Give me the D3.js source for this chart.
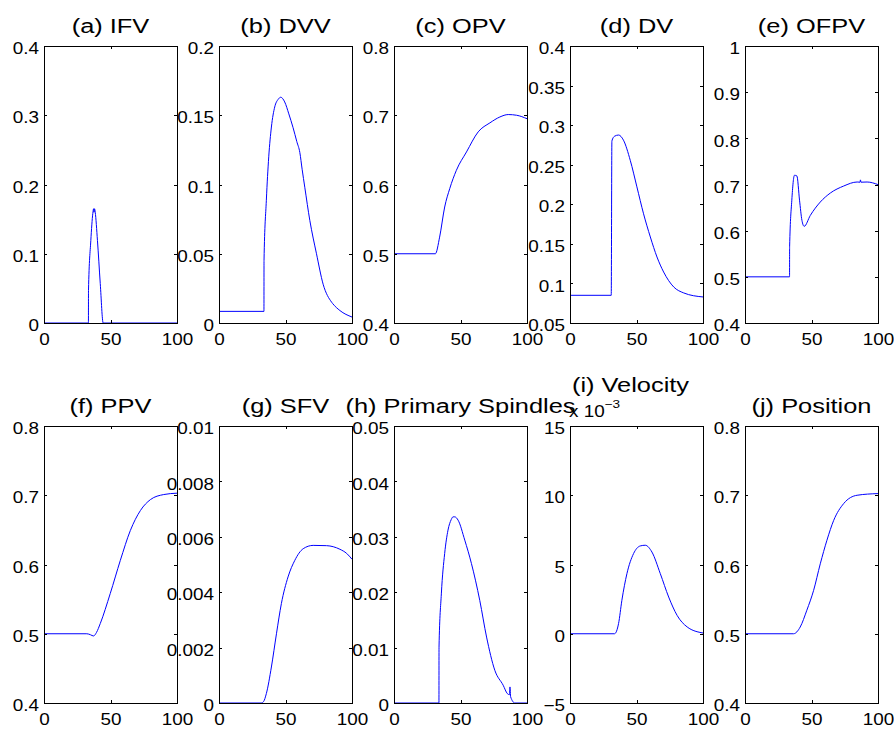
<!DOCTYPE html>
<html>
<head>
<meta charset="utf-8">
<script src="https://cdn.jsdelivr.net/npm/d3@7"></script>
<style>
  html, body { margin: 0; padding: 0; background: #fff; }
  svg { display: block; font-family: "Liberation Sans", Arial, Helvetica, sans-serif; }
  .axis text { font-size: 16px; fill: #000; }
  .axis line { stroke: #000; }
  .title { font-size: 20px; fill: #000; }
</style>
</head>
<body>
<svg id="chart" width="894" height="729"></svg>
<script>
// ---------------- DATA ----------------
const titles = ["(a) IFV", "(b) DVV", "(c) OPV", "(d) DV", "(e) OFPV",
                "(f) PPV", "(g) SFV", "(h) Primary Spindles", "(i) Velocity", "(j) Position"];
const xTicks = [0, 50, 100];

// (a) IFV
const ifvX = [0, 33.4, 33.45, 35.2, 36.7, 37.3, 37.6, 38.0, 38.5, 40.2, 42.3, 44.5, 100];
const ifvY = [0, 0, 0.047, 0.119, 0.158, 0.165, 0.160, 0.165, 0.160, 0.119, 0.057, 0, 0];
const ifvTicks = [0, 0.1, 0.2, 0.3, 0.4];

// (b) DVV
const dvvX = [0, 33.8, 33.85, 35.6, 37.4, 39.4, 41.9, 44.5, 46.4, 49.4, 52.5, 55.7, 58.5, 60.8, 62.5, 64.5, 68.3, 73.3, 78.3, 84.7, 85.5, 90.9, 100];
const dvvY = [0.0084, 0.0084, 0.045, 0.0886, 0.120, 0.1415, 0.156, 0.1615, 0.163, 0.1596, 0.151, 0.141, 0.131, 0.123, 0.111, 0.098, 0.074, 0.050, 0.028, 0.015, 0.014, 0.009, 0.0043];
const dvvTicks = [0, 0.05, 0.1, 0.15, 0.2];

// (c) OPV
const opvX = [0, 31.1, 34.3, 38.1, 41.9, 46.9, 54.5, 63.3, 72.1, 79.6, 85.9, 92.2, 100];
const opvY = [0.5, 0.5, 0.524, 0.5675, 0.594, 0.6205, 0.647, 0.676, 0.689, 0.6975, 0.701, 0.700, 0.695];
const opvTicks = [0.4, 0.5, 0.6, 0.7, 0.8];

// (d) DV
const dvX = [0, 31.0, 31.5, 33.5, 36.5, 40.2, 45.3, 50.3, 55.3, 60.4, 65.4, 70.4, 78, 85.5, 100];
const dvY = [0.085, 0.085, 0.280, 0.286, 0.2875, 0.281, 0.2556, 0.222, 0.188, 0.1587, 0.1334, 0.1144, 0.0955, 0.088, 0.0829];
const dvTicks = [0.05, 0.1, 0.15, 0.2, 0.25, 0.3, 0.35, 0.4];

// (e) OFPV
const ofpvX = [0, 33.5, 33.55, 35.2, 37.2, 39.0, 41.0, 42.8, 44.5, 49.1, 56.6, 64.2, 74.2, 84.3, 86.5, 86.8, 87.2, 91.8, 100];
const ofpvY = [0.5, 0.5, 0.565, 0.666, 0.72, 0.7186, 0.666, 0.6225, 0.6094, 0.633, 0.662, 0.6816, 0.6967, 0.7054, 0.705, 0.710, 0.705, 0.7054, 0.6998];
const ofpvTicks = [0.4, 0.5, 0.6, 0.7, 0.8, 0.9, 1];

// (f) PPV
const ppvX = [0, 32.2, 35, 37.2, 39.5, 42.3, 49.8, 57.4, 64.9, 72.5, 80, 90, 100];
const ppvY = [0.5, 0.5, 0.4985, 0.4968, 0.502, 0.5147, 0.558, 0.606, 0.649, 0.678, 0.6937, 0.701, 0.703];
const ppvTicks = [0.4, 0.5, 0.6, 0.7, 0.8];

// (g) SFV
const sfvX = [0, 31.8, 33.5, 35.6, 39.4, 43.2, 46.9, 51.9, 57, 63.3, 70.8, 80.9, 90.9, 96, 100];
const sfvY = [0, 0, 0.00005, 0.00034, 0.0013, 0.0025, 0.00359, 0.00455, 0.00515, 0.00557, 0.00569, 0.00568, 0.00555, 0.0054, 0.00519];
const sfvTicks = [0, 0.002, 0.004, 0.006, 0.008, 0.01];

// (h) Primary Spindles
const spX = [0, 33.8, 33.85, 35.6, 38.1, 40.6, 43.0, 44.4, 45.7, 48.2, 53.2, 58.2, 64.5, 69.6, 75.8, 82.1, 85.2, 86.8, 87.2, 87.7, 90.9, 100];
const spY = [0, 0, 0.0101, 0.0197, 0.027, 0.0312, 0.0331, 0.0336, 0.0336, 0.033, 0.0294, 0.0252, 0.0185, 0.0119, 0.0059, 0.0032, 0.0017, 0.0015, 0.0029, 0.0011, 0, 0];
const spTicks = [0, 0.01, 0.02, 0.03, 0.04, 0.05];

// (i) Velocity (x 10^-3)
const velX = [0, 33.5, 36.5, 39, 42.8, 47.8, 52.8, 56.6, 61.6, 67.9, 74.2, 80.5, 88.1, 100];
const velY = [0, 0, 0.73, 2.41, 4.34, 5.79, 6.34, 6.39, 5.9, 4.34, 2.65, 1.33, 0.49, 0.054];
const velTicks = [-5, 0, 5, 10, 15];

// (j) Position
const posX = [0, 36.5, 41.5, 46.5, 51.6, 56.6, 61.6, 66.7, 74.2, 84.3, 100];
const posY = [0.5, 0.5, 0.5097, 0.534, 0.5627, 0.601, 0.635, 0.6638, 0.688, 0.70, 0.7024];
const posTicks = [0.4, 0.5, 0.6, 0.7, 0.8];

// ---------------- LAYOUT ----------------
const panels = [
  {x: ifvX, y: ifvY, t: ifvTicks},
  {x: dvvX, y: dvvY, t: dvvTicks},
  {x: opvX, y: opvY, t: opvTicks},
  {x: dvX, y: dvY, t: dvTicks},
  {x: ofpvX, y: ofpvY, t: ofpvTicks},
  {x: ppvX, y: ppvY, t: ppvTicks},
  {x: sfvX, y: sfvY, t: sfvTicks},
  {x: spX, y: spY, t: spTicks},
  {x: velX, y: velY, t: velTicks},
  {x: posX, y: posY, t: posTicks}
];

const lefts = [44, 219, 394, 570, 745];
const tops = [46, 426];
const pw = 133, ph = 277;
const tickStretch = 1.18, titleStretch = 1.27;

const svg = d3.select("#chart");
svg.append("rect").attr("width", 894).attr("height", 729).attr("fill", "#fff");

const fmt = v => (v < 0 ? "\u2212" : "") + String(+Math.abs(v).toFixed(4));

// horizontally stretch a text element around its anchor point
function stretch(sel, s) {
  sel.each(function () {
    const t = d3.select(this);
    const x = +t.attr("x") || 0, y = +t.attr("y") || 0;
    t.attr("x", 0).attr("y", 0).attr("transform", `translate(${x},${y}) scale(${s},1)`);
  });
}

panels.forEach((p, i) => {
  const col = i % 5, row = Math.floor(i / 5);
  const x0 = lefts[col], y0 = tops[row];
  const g = svg.append("g").attr("transform", `translate(${x0},${y0})`);
  const x = d3.scaleLinear().domain([0, 100]).range([0, pw]);
  const y = d3.scaleLinear().domain(d3.extent(p.t)).range([ph, 0]);

  // data line
  const pts = p.x.map((v, k) => [v, p.y[k]]);
  g.append("path")
    .datum(pts)
    .attr("fill", "none")
    .attr("stroke", "#0000ff")
    .attr("stroke-width", 1)
    .attr("d", d3.line().x(d => x(d[0])).y(d => y(d[1])).curve(d3.curveMonotoneX));

  // axes
  const ax = (sel) => sel.attr("class", "axis").attr("shape-rendering", "crispEdges");
  g.append("g").call(ax).attr("transform", `translate(0,${ph})`)
    .call(d3.axisBottom(x).tickValues(xTicks).tickSizeInner(-3).tickSizeOuter(0).tickPadding(11).tickFormat(d3.format("d")))
    .call(s => s.select(".domain").remove());
  g.append("g").call(ax)
    .call(d3.axisTop(x).tickValues(xTicks).tickSizeInner(-3).tickSizeOuter(0).tickFormat(""))
    .call(s => s.select(".domain").remove());
  g.append("g").call(ax)
    .call(d3.axisLeft(y).tickValues(p.t).tickSizeInner(-3).tickSizeOuter(0).tickPadding(5).tickFormat(fmt))
    .call(s => s.select(".domain").remove())
    .call(s => s.selectAll("text").attr("dy", "0.48em"));
  g.append("g").call(ax).attr("transform", `translate(${pw},0)`)
    .call(d3.axisRight(y).tickValues(p.t).tickSizeInner(-3).tickSizeOuter(0).tickFormat(""))
    .call(s => s.select(".domain").remove());
  g.selectAll(".axis text").attr("fill", "#000").call(stretch, tickStretch);

  // box
  g.append("rect").attr("x", 0.5).attr("y", 0.5).attr("width", pw).attr("height", ph)
    .attr("fill", "none").attr("stroke", "#000").attr("stroke-width", 1)
    .attr("shape-rendering", "crispEdges");

  // title
  const tx = i === 8 ? pw / 2 - 6 : pw / 2;
  const ty = i === 8 ? -34 : -13.5;
  g.append("text").attr("class", "title")
    .attr("x", tx).attr("y", ty).attr("text-anchor", "middle").text(titles[i])
    .call(stretch, titleStretch);

  // exponent label for velocity
  if (i === 8) {
    const e = g.append("text").attr("x", -1).attr("y", -9.5).attr("font-size", 16).attr("fill", "#000");
    e.append("tspan").text("x 10");
    e.append("tspan").attr("font-size", 11.5).attr("dy", -9).text("\u22123");
    e.call(stretch, tickStretch);
  }
});
</script>
</body>
</html>
